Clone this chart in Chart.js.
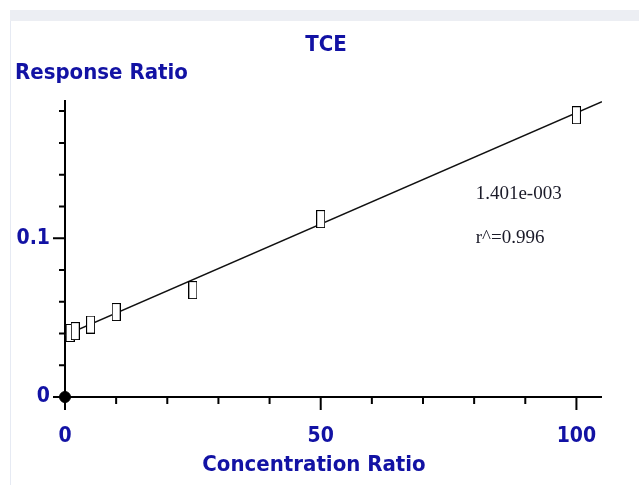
<!DOCTYPE html>
<html>
<head>
<meta charset="utf-8">
<title>TCE</title>
<script src="https://cdn.jsdelivr.net/npm/chart.js@4.4.1/dist/chart.umd.min.js"></script>
<style>
    body { margin: 0; background: #fff; }
    #wrap { position: relative; width: 639px; height: 485px; overflow: hidden; }
    #strip { position: absolute; left: 10px; top: 10px; width: 629px; height: 11px; background: #eceef3; }
    #edge { position: absolute; left: 10px; top: 21px; width: 1px; height: 464px; background: #e6eaf3; }
    #plot { position: absolute; left: 0; top: 0; }
</style>
</head>
<body>
<div id="wrap">
    <div id="strip"></div>
    <div id="edge"></div>
    <canvas id="plot" width="639" height="485"></canvas>
</div>
<script>
// calibration levels and measured response ratios
const concentrations = [1, 2, 5, 10, 25, 50, 100];
const responseRatios = [0.0403, 0.0415, 0.0456, 0.0535, 0.0673, 0.112, 0.1774];

// linear fit
const fitSlope = 0.001401;
const fitIntercept = 0.0389;
const fitRange = [0, 105];
const slopeLabel = '1.401e-003';
const r2Label = 'r^=0.996';

// axis ticks
const xMajorTicks = [0, 50, 100];
const xMinorTicks = [10, 20, 30, 40, 60, 70, 80, 90];
const yMajorTicks = [0, 0.1];
const yMinorTicks = [0.02, 0.04, 0.06, 0.08, 0.12, 0.14, 0.16, 0.18];

const BLUE = '#1212a4';
const SANS = "'DejaVu Sans Condensed', 'DejaVu Sans', sans-serif";
const LABEL_FONT = 'bold 22px ' + SANS;

// open tall rectangle used for the calibration points
function boxMarker() {
    const c = document.createElement('canvas');
    c.width = 9;
    c.height = 18;
    const g = c.getContext('2d');
    g.fillStyle = '#fff';
    g.fillRect(0, 0, 9, 18);
    g.strokeStyle = '#000';
    g.lineWidth = 1;
    g.strokeRect(0.5, 0.5, 8, 17);
    return c;
}

// axis lines with long/short ticks, drawn under the data
const axisFrame = {
    id: 'axisFrame',
    beforeDatasetsDraw(chart) {
        const { ctx, scales: { x, y } } = chart;
        const x0 = x.getPixelForValue(0);
        const y0 = y.getPixelForValue(0);
        ctx.save();
        ctx.strokeStyle = '#000';
        ctx.lineWidth = 2;
        ctx.beginPath();
        ctx.moveTo(x0, chart.chartArea.top);
        ctx.lineTo(x0, y0 + 12);
        ctx.moveTo(x0, y0);
        ctx.lineTo(chart.chartArea.right, y0);
        xMajorTicks.forEach(v => {
            const px = x.getPixelForValue(v);
            ctx.moveTo(px, y0);
            ctx.lineTo(px, y0 + 13);
        });
        xMinorTicks.forEach(v => {
            const px = x.getPixelForValue(v);
            ctx.moveTo(px, y0);
            ctx.lineTo(px, y0 + 7);
        });
        yMajorTicks.forEach(v => {
            const py = y.getPixelForValue(v);
            ctx.moveTo(x0 - 12, py);
            ctx.lineTo(x0, py);
        });
        yMinorTicks.forEach(v => {
            const py = y.getPixelForValue(v);
            ctx.moveTo(x0 - 6, py);
            ctx.lineTo(x0, py);
        });
        ctx.stroke();
        ctx.restore();
    }
};

// chart title, axis names and fit statistics
const captions = {
    id: 'captions',
    afterDraw(chart) {
        const { ctx, scales: { x, y } } = chart;
        ctx.save();
        ctx.fillStyle = BLUE;
        ctx.font = LABEL_FONT;
        ctx.textBaseline = 'middle';
        ctx.textAlign = 'center';
        ctx.fillText('TCE', 326, 45);
        ctx.fillText('Concentration Ratio', 314, 465);
        ctx.textAlign = 'left';
        ctx.fillText('Response Ratio', 15, 73);

        ctx.fillStyle = '#1a1a28';
        ctx.font = "19px 'Liberation Serif', 'Times New Roman', serif";
        const tx = x.getPixelForValue(80.3);
        ctx.fillText(slopeLabel, tx, y.getPixelForValue(0.128));
        ctx.fillText(r2Label, tx, y.getPixelForValue(0.1));
        ctx.restore();
    }
};

const points = concentrations.map((c, i) => ({ x: c, y: responseRatios[i] }));
const fitLine = fitRange.map(c => ({ x: c, y: fitIntercept + fitSlope * c }));

new Chart(document.getElementById('plot'), {
    type: 'scatter',
    data: {
        datasets: [
            {
                label: 'Calibration',
                data: points,
                pointStyle: boxMarker(),
                order: 0
            },
            {
                label: 'Origin',
                data: [{ x: 0, y: 0 }],
                pointStyle: 'circle',
                pointRadius: 5.5,
                backgroundColor: '#000',
                borderColor: '#000',
                borderWidth: 1,
                clip: false,
                order: 1
            },
            {
                label: 'Fit',
                data: fitLine,
                showLine: true,
                pointRadius: 0,
                borderColor: '#111',
                borderWidth: 1.5,
                order: 2
            }
        ]
    },
    options: {
        responsive: false,
        animation: false,
        events: [],
        layout: { padding: { top: 100, right: 37, left: 0, bottom: 0 } },
        plugins: {
            legend: { display: false },
            tooltip: { enabled: false },
            title: { display: false }
        },
        scales: {
            x: {
                type: 'linear',
                min: 0,
                max: 105,
                grid: { display: false, drawTicks: false },
                border: { display: false },
                ticks: {
                    stepSize: 50,
                    includeBounds: false,
                    padding: 27,
                    maxRotation: 0,
                    color: BLUE,
                    font: { family: SANS, size: 21, weight: 'bold' }
                },
                afterFit(scale) { scale.height = 88; }
            },
            y: {
                type: 'linear',
                min: 0,
                max: 0.187,
                grid: { display: false, drawTicks: false },
                border: { display: false },
                ticks: {
                    stepSize: 0.1,
                    includeBounds: false,
                    padding: 15,
                    color: BLUE,
                    font: { family: SANS, size: 21, weight: 'bold' }
                },
                afterFit(scale) { scale.width = 65; }
            }
        }
    },
    plugins: [axisFrame, captions]
});
</script>
</body>
</html>
